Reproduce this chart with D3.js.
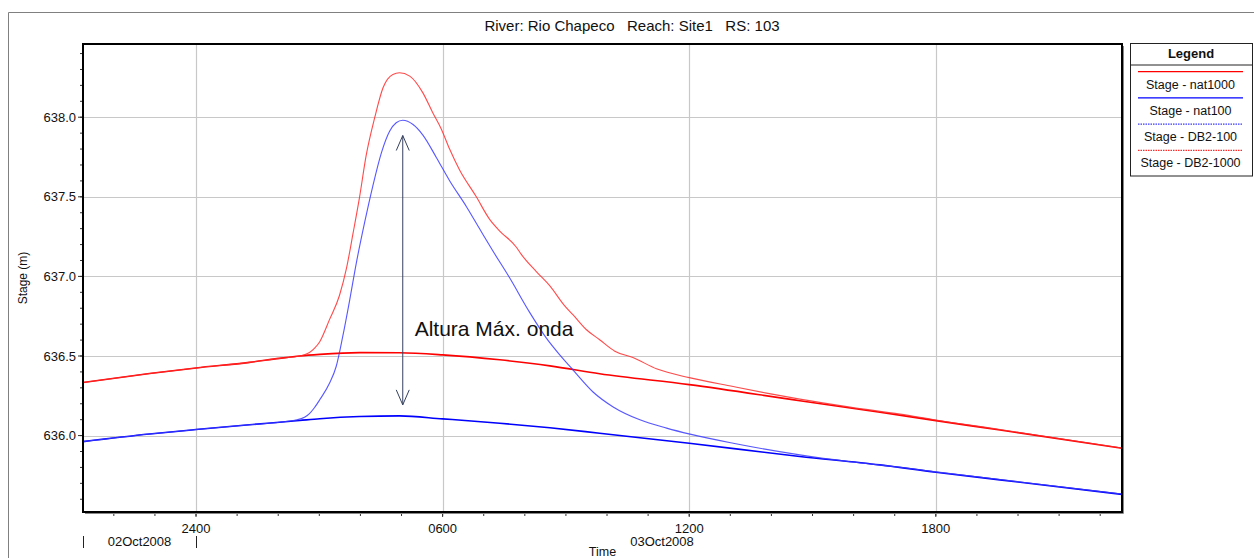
<!DOCTYPE html>
<html><head><meta charset="utf-8">
<script src="https://cdn.jsdelivr.net/npm/d3@7"></script>
<style>
body{margin:0;background:#fff}
svg{display:block;font-family:"Liberation Sans",Arial,sans-serif}
</style>
</head><body>
<svg id="chart" width="1254" height="558"></svg>
<script>
// ---------- DATA (times in hours relative to 03Oct2008 00:00 = "2400" of 02Oct2008) ----------
const titleText = "River: Rio Chapeco   Reach: Site1   RS: 103";
const timeStart = -2.75;   // 02Oct2008 21:15
const timeEnd = 22.53;     // 03Oct2008 ~22:32
const stageMin = 635.52, stageMax = 638.46;

const natTimes = [-2.76, -1.13, 0, 1.30, 2.03, 2.52, 3.01, 3.98, 4.95, 6.0, 7.39, 8.61, 9.82, 12.0, 14.69, 16.64, 18.0, 19.56, 22.53];
const nat1000  = [636.333, 636.39, 636.425, 636.46, 636.485, 636.50, 636.51, 636.521, 636.52, 636.507, 636.476, 636.438, 636.388, 636.32, 636.219, 636.147, 636.094, 636.035, 635.92];
const nat100   = [635.962, 636.01, 636.038, 636.068, 636.084, 636.095, 636.106, 636.12, 636.124, 636.105, 636.078, 636.049, 636.015, 635.952, 635.869, 635.816, 635.77, 635.722, 635.631];

const db2_1000Times = [-2.76, -1.13, 0, 1.30, 2.03, 2.52, 2.64, 2.76, 2.88, 3.01, 3.25, 3.49, 3.66, 3.82, 3.98, 4.14, 4.35, 4.55, 4.79, 4.95, 5.20, 5.52, 5.76, 5.97, 6.17, 6.41, 6.82, 7.14, 7.39, 7.79, 7.91, 8.28, 8.61, 8.97, 9.17, 9.50, 9.82, 10.19, 10.63, 11.22, 12.0, 13.07, 13.88, 14.69, 15.91, 17.13, 18.0, 19.56, 22.53];
const db2_1000 = [636.333, 636.39, 636.425, 636.46, 636.485, 636.50, 636.508, 636.522, 636.548, 636.59, 636.73, 636.88, 637.05, 637.27, 637.50, 637.76, 638.0, 638.185, 638.269, 638.279, 638.258, 638.153, 638.028, 637.925, 637.80, 637.67, 637.50, 637.36, 637.285, 637.185, 637.14, 637.03, 636.94, 636.815, 636.76, 636.665, 636.602, 636.53, 636.49, 636.418, 636.364, 636.308, 636.267, 636.229, 636.179, 636.135, 636.098, 636.038, 635.922];

const db2_100Times = [-2.76, -1.13, 0, 1.30, 2.03, 2.40, 2.64, 2.76, 2.88, 3.01, 3.25, 3.41, 3.57, 3.74, 3.90, 4.10, 4.30, 4.51, 4.71, 4.87, 5.03, 5.28, 5.52, 5.85, 6.17, 6.58, 6.90, 7.22, 7.63, 8.11, 8.52, 8.85, 9.17, 9.66, 10.15, 10.80, 11.45, 12.02, 13.07, 14.69, 15.91, 17.13, 18.0, 19.56, 22.53];
const db2_100 = [635.962, 636.01, 636.038, 636.068, 636.084, 636.096, 636.115, 636.138, 636.175, 636.225, 636.33, 636.434, 636.623, 636.853, 637.084, 637.336, 637.566, 637.776, 637.912, 637.965, 637.981, 637.954, 637.888, 637.746, 637.601, 637.438, 637.299, 637.161, 636.991, 636.777, 636.614, 636.507, 636.413, 636.274, 636.18, 636.099, 636.047, 636.009, 635.952, 635.879, 635.836, 635.801, 635.772, 635.724, 635.633];

const yMajorTicks = [636.0, 636.5, 637.0, 637.5, 638.0];
const xMajorHours = [0, 6, 12, 18];
const xTickLabels = ["2400", "0600", "1200", "1800"];
const dayLabels = ["02Oct2008", "03Oct2008"];
const legendLabels = ["Stage - nat1000", "Stage - nat100", "Stage - DB2-100", "Stage - DB2-1000"];
const annotationText = "Altura Máx. onda";
const arrowHour = 5.03, arrowTop = 637.885, arrowBottom = 636.193;
const annotationHour = 5.32, annotationStage = 636.627;

// ---------- LAYOUT ----------
const svg = d3.select("#chart");
const W = 1254, H = 558;
const plot = {left: 83, top: 44, right: 1122, bottom: 512};
const base = Date.UTC(2008, 9, 3, 0, 0);
const toDate = h => new Date(base + h * 3600e3);

const x = d3.scaleUtc().domain([toDate(timeStart), toDate(timeEnd)]).range([plot.left, plot.right]);
const y = d3.scaleLinear().domain([stageMin, stageMax]).range([plot.bottom, plot.top]);

// outer frame lines
svg.append("line").attr("x1", 8.5).attr("x2", W).attr("y1", 12.5).attr("y2", 12.5).attr("stroke", "#808080");
svg.append("line").attr("x1", 8.5).attr("x2", 8.5).attr("y1", 12.5).attr("y2", H).attr("stroke", "#808080");

// title
svg.append("text").attr("x", 632).attr("y", 31).attr("text-anchor", "middle")
  .attr("font-size", 15).attr("fill", "#111").style("white-space", "pre").text(titleText);

// gridlines
const g = svg.append("g");
g.selectAll(".hg").data(yMajorTicks).join("line")
  .attr("x1", plot.left).attr("x2", plot.right)
  .attr("y1", d => Math.round(y(d)) + 0.5).attr("y2", d => Math.round(y(d)) + 0.5)
  .attr("stroke", "#c8c8c8").attr("stroke-width", 1.2);
g.selectAll(".vg").data(xMajorHours).join("line")
  .attr("x1", d => Math.round(x(toDate(d))) + 0.5).attr("x2", d => Math.round(x(toDate(d))) + 0.5)
  .attr("y1", plot.top).attr("y2", plot.bottom)
  .attr("stroke", "#c8c8c8").attr("stroke-width", 1.2);

// series
svg.append("clipPath").attr("id", "clip").append("rect")
  .attr("x", plot.left).attr("y", plot.top).attr("width", plot.right - plot.left).attr("height", plot.bottom - plot.top);
const line = d3.line().x(d => x(toDate(d[0]))).y(d => y(d[1])).curve(d3.curveMonotoneX);
const series = [
  {t: natTimes, v: nat1000, color: "#ff0000", w: 1.6, op: 1},
  {t: natTimes, v: nat100, color: "#0000ff", w: 1.6, op: 1},
  {t: db2_100Times, v: db2_100, color: "#3a3aff", w: 1.1, op: 0.85},
  {t: db2_1000Times, v: db2_1000, color: "#ff2a2a", w: 1.1, op: 0.85}
];
const sg = svg.append("g").attr("clip-path", "url(#clip)");
series.forEach(s => {
  sg.append("path").datum(s.t.map((t, i) => [t, s.v[i]]))
    .attr("d", line).attr("fill", "none").attr("stroke", s.color)
    .attr("stroke-width", s.w).attr("stroke-opacity", s.op);
});

// annotation arrow
const ax = x(toDate(arrowHour));
const aTop = y(arrowTop), aBot = y(arrowBottom);
const ann = svg.append("g").attr("stroke", "#34405e").attr("fill", "none").attr("stroke-width", 1);
ann.append("line").attr("x1", ax).attr("x2", ax).attr("y1", aTop).attr("y2", aBot);
ann.append("path").attr("d", `M${ax - 6.5},${aTop + 15}L${ax},${aTop}L${ax + 6.5},${aTop + 15}`);
ann.append("path").attr("d", `M${ax - 6.5},${aBot - 15}L${ax},${aBot}L${ax + 6.5},${aBot - 15}`);
svg.append("text").attr("x", x(toDate(annotationHour))).attr("y", y(annotationStage))
  .attr("font-size", 21).attr("fill", "#111").text(annotationText);

// y axis
const yMinor = d3.range(635.6, 638.45, 0.1).map(v => +v.toFixed(1));
svg.append("g").selectAll("line").data(yMinor).join("line")
  .attr("x1", plot.left - 3).attr("x2", plot.left)
  .attr("y1", d => y(d)).attr("y2", d => y(d)).attr("stroke", "#333");
svg.append("g").selectAll("line").data(yMajorTicks).join("line")
  .attr("x1", plot.left - 5).attr("x2", plot.left)
  .attr("y1", d => y(d)).attr("y2", d => y(d)).attr("stroke", "#333");
svg.append("g").selectAll("text").data(yMajorTicks).join("text")
  .attr("x", 76).attr("y", d => y(d)).attr("dy", "0.35em").attr("text-anchor", "end")
  .attr("font-size", 13).attr("fill", "#111").text(d => d3.format(".1f")(d));
svg.append("text").attr("transform", `translate(27,${(plot.top + plot.bottom) / 2}) rotate(-90)`)
  .attr("text-anchor", "middle").attr("font-size", 12).attr("fill", "#111").text("Stage (m)");

// x axis
const xMinor = d3.utcHour.every(1).range(x.domain()[0], x.domain()[1]);
svg.append("g").selectAll("line").data(xMinor).join("line")
  .attr("x1", d => x(d)).attr("x2", d => x(d))
  .attr("y1", plot.bottom).attr("y2", plot.bottom + 4).attr("stroke", "#333");
svg.append("g").selectAll("line").data(xMajorHours).join("line")
  .attr("x1", d => x(toDate(d))).attr("x2", d => x(toDate(d)))
  .attr("y1", plot.bottom).attr("y2", plot.bottom + 5).attr("stroke", "#333");
svg.append("g").selectAll("text").data(xMajorHours).join("text")
  .attr("x", d => x(toDate(d))).attr("y", 533).attr("text-anchor", "middle")
  .attr("font-size", 13).attr("fill", "#111").text((d, i) => xTickLabels[i]);

// day labels and separators
const dayBounds = [toDate(timeStart), toDate(0), toDate(timeEnd)];
svg.append("g").selectAll("line").data(dayBounds.slice(0, 2)).join("line")
  .attr("x1", d => Math.round(x(d)) + 0.5).attr("x2", d => Math.round(x(d)) + 0.5)
  .attr("y1", 536).attr("y2", 548).attr("stroke", "#222");
svg.append("g").selectAll("text").data(dayLabels).join("text")
  .attr("x", (d, i) => (x(dayBounds[i]) + x(dayBounds[i + 1])) / 2 + (i === 1 ? 3 : 0))
  .attr("y", 545.5).attr("text-anchor", "middle").attr("font-size", 13).attr("fill", "#111").text(d => d);
svg.append("text").attr("x", (plot.left + plot.right) / 2).attr("y", 556)
  .attr("text-anchor", "middle").attr("font-size", 12.5).attr("fill", "#111").text("Time");

// plot frame
svg.append("path").attr("d", `M${plot.right + 1.5},${plot.top + 2}V${plot.bottom + 1.5}H${plot.left + 2}`)
  .attr("fill", "none").attr("stroke", "#888").attr("stroke-width", 1);
svg.append("rect").attr("x", plot.left).attr("y", plot.top)
  .attr("width", plot.right - plot.left).attr("height", plot.bottom - plot.top)
  .attr("fill", "none").attr("stroke", "#000").attr("stroke-width", 2);

// legend
const lg = svg.append("g");
const L = {x: 1130, y: 43.5, w: 122, h: 132.5};
lg.append("rect").attr("x", L.x + 0.5).attr("y", L.y).attr("width", L.w).attr("height", L.h)
  .attr("fill", "#fff").attr("stroke", "#222");
lg.append("line").attr("x1", L.x).attr("x2", L.x + L.w).attr("y1", 65).attr("y2", 65).attr("stroke", "#222");
lg.append("text").attr("x", L.x + L.w / 2).attr("y", 58).attr("text-anchor", "middle")
  .attr("font-size", 13).attr("font-weight", "bold").attr("fill", "#111").text("Legend");
const legColors = ["#ff0000", "#0000ff", "#3a3aff", "#ff2a2a"];
const legDash = [null, null, "1.5,1", "1.5,1"];
legendLabels.forEach((lab, i) => {
  const ly = 71.7 + i * 26.2;
  lg.append("line").attr("x1", 1138).attr("x2", 1243).attr("y1", ly).attr("y2", ly)
    .attr("stroke", legColors[i]).attr("stroke-width", 1.2).attr("stroke-dasharray", legDash[i]);
  lg.append("text").attr("x", 1190.5).attr("y", ly + 16.8).attr("text-anchor", "middle")
    .attr("font-size", 12.5).attr("fill", "#111").text(lab);
});
</script>
</body></html>
